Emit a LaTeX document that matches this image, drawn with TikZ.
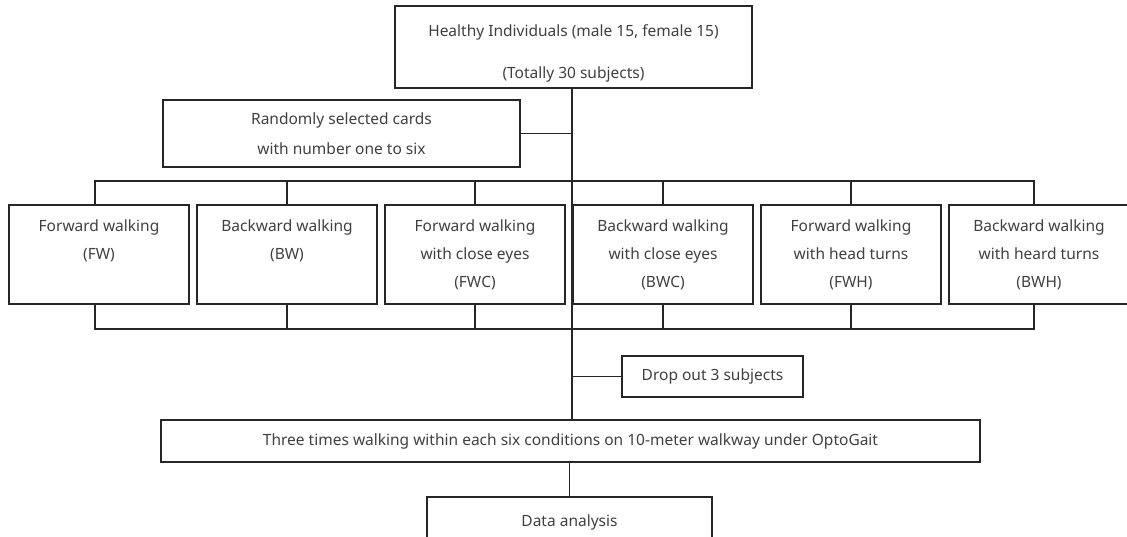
\documentclass[tikz,border=0pt]{standalone}
\usepackage{fontspec}
\setmainfont{Noto Sans}
\usetikzlibrary{positioning}

\definecolor{txtgray}{HTML}{404040}
\definecolor{linegray}{HTML}{262626}

\tikzset{
        box/.style={draw=linegray, line width=1.8pt, inner sep=0pt, text=txtgray, align=center,
                font=\fontsize{15.5pt}{30pt}\selectfont},
        cond/.style={box, minimum width=180pt, minimum height=99pt},
        lbl/.style={text=txtgray, align=center, font=\fontsize{15.5pt}{28pt}\selectfont},
        condlbl/.style={lbl, anchor=north, yshift=-12.5pt},
        link/.style={draw=linegray, line width=1.8pt}
}

\begin{document}
\begin{tikzpicture}[x=1pt, y=-1pt]
        \useasboundingbox (0,0) rectangle (1127,536);

        % boxes
        \node[box, minimum width=357pt, minimum height=82pt,
                label={[lbl, font=\fontsize{15.5pt}{42pt}\selectfont, yshift=-6pt]center:{Healthy Individuals (male 15, female 15)\\(Totally 30 subjects)}}]
                (healthy) at (573.5,47) {};
        \node[box, minimum width=357pt, minimum height=67pt] (cards) at (341.5,133.5)
                {Randomly selected cards\\with number one to six};

        \node[cond, label={[condlbl]north:{Forward walking\\(FW)}}] (fw) at (99,254.5) {};
        \node[cond, right=6.2pt of fw, label={[condlbl]north:{Backward walking\\(BW)}}] (bw) {};
        \node[cond, right=6.2pt of bw, label={[condlbl]north:{Forward walking\\with close eyes\\(FWC)}}] (fwc) {};
        \node[cond, right=6.2pt of fwc, label={[condlbl]north:{Backward walking\\with close eyes\\(BWC)}}] (bwc) {};
        \node[cond, right=6.2pt of bwc, label={[condlbl]north:{Forward walking\\with head turns\\(FWH)}}] (fwh) {};
        \node[cond, right=6.2pt of fwh, label={[condlbl]north:{Backward walking\\with heard turns\\(BWH)}}] (bwh) {};

        \node[box, minimum width=181pt, minimum height=41pt] (drop) at (712.5,376.5) {Drop out 3 subjects};
        \node[box, minimum width=819pt, minimum height=42pt] (opto) at (570.5,441)
                {Three times walking within each six conditions on 10-meter walkway under OptoGait};
        \node[box, minimum width=285pt, minimum height=50pt] (data) at (569.5,522) {Data analysis};

        % bus lines
        \coordinate (bustop) at (572,181);
        \coordinate (busbot) at (572,329);

        \draw[link] (healthy.south -| bustop) -- (opto.north -| bustop);
        \draw[link] (cards.east) -- (cards.east -| bustop);
        \draw[link] ([xshift=-4pt]fw.north) |- ([xshift=-5pt]bwh.north |- bustop) -- ([xshift=-5pt]bwh.north);
        \draw[link] ([xshift=-4pt]fw.south) |- ([xshift=-5pt]bwh.south |- busbot) -- ([xshift=-5pt]bwh.south);
        \foreach \n in {bw,fwc,bwc,fwh} {
                \draw[link] (\n.north) -- (\n.north |- bustop);
                \draw[link] (\n.south) -- (\n.south |- busbot);
        }
        \draw[link] (drop.west) -- (drop.west -| bustop);
        \draw[link] (opto.south -| data.north) -- (data.north);
\end{tikzpicture}
\end{document}
